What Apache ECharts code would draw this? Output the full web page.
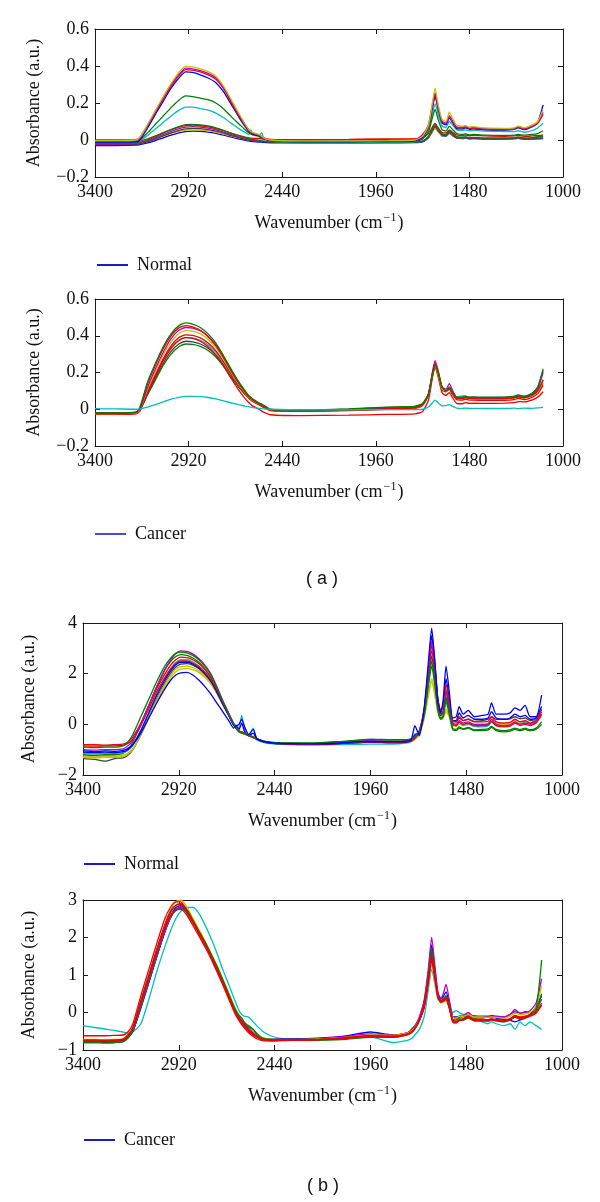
<!DOCTYPE html>
<html><head><meta charset="utf-8">
<script src="https://cdn.jsdelivr.net/npm/echarts@6/dist/echarts.min.js"></script>
<style>html,body{margin:0;padding:0;background:#fff}#c{width:600px;height:1202px}</style>
</head><body><div id="c"></div>
<script>
// ---------- axis ticks ----------
const X_TICKS = [3400, 2920, 2440, 1960, 1480, 1000];
const Y_TICKS_A = [-0.2, 0, 0.2, 0.4, 0.6];
const Y_TICKS_B_NORMAL = [-2, 0, 2, 4];
const Y_TICKS_B_CANCER = [-1, 0, 1, 2, 3];

// ---------- (a) wavenumbers ----------
const WN_A = [3400,3300,3190,3170,3130,3090,3050,3010,2970,2935,2900,2860,2820,2780,2740,2700,2660,2630,2610,2600,2590,2560,2545,2535,2500,2350,2100,1900,1760,1720,1690,1670,1656,1640,1620,1600,1583,1565,1545,1515,1500,1480,1460,1400,1300,1250,1230,1200,1160,1130,1102];

// (a) Normal
const A_N_OLIVE = [-0.003,-0.003,0.0,0.015,0.085,0.16,0.235,0.305,0.365,0.398,0.395,0.385,0.37,0.345,0.29,0.215,0.14,0.085,0.055,0.045,0.04,0.03,0.02,0.012,0.0,-0.005,-0.005,-0.003,0.0,0.02,0.08,0.2,0.28,0.19,0.11,0.1,0.15,0.115,0.08,0.075,0.078,0.07,0.072,0.065,0.063,0.066,0.075,0.066,0.08,0.1,0.165];
const A_N_MAGENTA = [-0.005,-0.005,-0.002,0.012,0.08,0.155,0.228,0.298,0.355,0.388,0.385,0.375,0.36,0.335,0.282,0.208,0.135,0.082,0.053,0.043,0.038,0.028,0.018,0.01,-0.002,-0.006,-0.006,-0.004,0.0,0.03,0.08,0.19,0.255,0.18,0.1,0.09,0.13,0.1,0.07,0.07,0.075,0.065,0.068,0.062,0.06,0.062,0.072,0.062,0.075,0.095,0.15];
const A_N_RED = [0.0,0.0,0.002,0.012,0.078,0.15,0.222,0.29,0.348,0.38,0.378,0.368,0.352,0.328,0.276,0.2,0.13,0.08,0.05,0.042,0.036,0.027,0.018,0.012,0.003,0.0,0.002,0.004,0.005,0.02,0.075,0.18,0.245,0.175,0.098,0.088,0.125,0.098,0.068,0.066,0.07,0.062,0.064,0.06,0.058,0.06,0.07,0.06,0.072,0.09,0.14];
const A_N_BLUE = [-0.012,-0.012,-0.01,0.0,0.065,0.14,0.21,0.28,0.335,0.368,0.365,0.352,0.335,0.31,0.26,0.19,0.12,0.072,0.045,0.038,0.032,0.024,0.015,0.008,-0.004,-0.008,-0.008,-0.006,-0.004,0.015,0.07,0.17,0.235,0.165,0.092,0.082,0.12,0.092,0.062,0.06,0.066,0.058,0.06,0.055,0.054,0.057,0.066,0.056,0.07,0.095,0.19];
const A_N_GREEN = [-0.01,-0.01,-0.008,0.0,0.04,0.085,0.13,0.175,0.215,0.238,0.235,0.226,0.218,0.2,0.168,0.125,0.085,0.055,0.038,0.032,0.028,0.02,0.012,0.006,-0.005,-0.01,-0.01,-0.008,-0.006,0.005,0.045,0.12,0.165,0.11,0.055,0.048,0.075,0.055,0.035,0.03,0.033,0.028,0.03,0.026,0.025,0.026,0.03,0.026,0.03,0.035,0.05];
const A_N_CYAN = [-0.012,-0.012,-0.01,-0.004,0.025,0.06,0.095,0.13,0.16,0.178,0.178,0.17,0.162,0.145,0.12,0.09,0.06,0.04,0.03,0.055,0.028,0.022,0.04,0.012,-0.006,-0.012,-0.012,-0.01,-0.008,0.008,0.06,0.14,0.195,0.14,0.075,0.068,0.1,0.08,0.055,0.052,0.055,0.05,0.052,0.048,0.046,0.045,0.05,0.042,0.05,0.065,0.09];
const A_N_GREEN_LOW = [-0.018,-0.018,-0.016,-0.012,0.0,0.018,0.038,0.056,0.072,0.083,0.085,0.082,0.076,0.066,0.052,0.036,0.022,0.012,0.006,0.004,0.002,-0.002,-0.005,-0.006,-0.01,-0.012,-0.012,-0.012,-0.01,-0.006,0.02,0.06,0.085,0.06,0.032,0.03,0.05,0.035,0.018,0.015,0.017,0.012,0.014,0.01,0.01,0.012,0.016,0.01,0.012,0.018,0.022];
const A_N_RED_LOW = [-0.01,-0.01,-0.008,-0.005,0.006,0.022,0.04,0.056,0.07,0.078,0.08,0.077,0.071,0.062,0.05,0.036,0.024,0.016,0.012,0.01,0.009,0.008,0.006,0.005,0.002,0.002,0.003,0.005,0.006,0.012,0.035,0.07,0.09,0.065,0.04,0.038,0.055,0.04,0.028,0.025,0.027,0.023,0.025,0.022,0.02,0.022,0.025,0.02,0.022,0.024,0.026];
const A_N_MAGENTA_LOW = [-0.022,-0.022,-0.02,-0.016,-0.004,0.012,0.03,0.047,0.061,0.07,0.072,0.07,0.064,0.055,0.043,0.029,0.016,0.008,0.003,0.001,0.0,-0.004,-0.006,-0.007,-0.01,-0.013,-0.013,-0.012,-0.011,-0.006,0.018,0.055,0.078,0.055,0.03,0.027,0.045,0.03,0.016,0.014,0.016,0.012,0.013,0.01,0.01,0.012,0.015,0.01,0.012,0.015,0.018];
const A_N_GRAY_LOW = [-0.025,-0.025,-0.023,-0.02,-0.01,0.005,0.022,0.038,0.052,0.06,0.063,0.061,0.056,0.048,0.037,0.024,0.012,0.004,0.0,-0.002,-0.003,-0.006,-0.008,-0.009,-0.012,-0.014,-0.014,-0.013,-0.012,-0.008,0.015,0.05,0.072,0.05,0.026,0.024,0.04,0.026,0.012,0.01,0.012,0.008,0.009,0.006,0.006,0.008,0.011,0.006,0.007,0.009,0.012];
const A_N_OLIVE_LOW = [-0.02,-0.02,-0.018,-0.015,-0.006,0.008,0.022,0.036,0.047,0.053,0.055,0.053,0.049,0.042,0.032,0.021,0.011,0.004,0.001,-0.001,-0.002,-0.005,-0.006,-0.007,-0.01,-0.012,-0.012,-0.011,-0.01,-0.006,0.014,0.045,0.065,0.045,0.024,0.022,0.036,0.024,0.012,0.01,0.012,0.008,0.009,0.007,0.007,0.009,0.012,0.007,0.008,0.01,0.013];
const A_N_BLUE_LOW = [-0.03,-0.03,-0.028,-0.025,-0.016,-0.003,0.012,0.026,0.038,0.045,0.048,0.047,0.043,0.036,0.026,0.015,0.005,-0.002,-0.006,-0.008,-0.009,-0.011,-0.012,-0.013,-0.015,-0.016,-0.016,-0.015,-0.014,-0.01,0.012,0.045,0.066,0.045,0.022,0.02,0.036,0.022,0.01,0.008,0.01,0.006,0.007,0.005,0.005,0.007,0.009,0.004,0.005,0.006,0.008];

// (a) Cancer
const A_C_GREEN = [-0.02,-0.02,-0.015,0.01,0.15,0.25,0.34,0.41,0.455,0.47,0.463,0.445,0.41,0.36,0.29,0.215,0.145,0.1,0.072,0.065,0.055,0.035,0.028,0.022,0.0,-0.005,0.0,0.01,0.015,0.03,0.08,0.18,0.24,0.2,0.12,0.1,0.12,0.09,0.065,0.065,0.07,0.065,0.066,0.064,0.065,0.07,0.075,0.07,0.085,0.12,0.22];
const A_C_RED = [-0.022,-0.022,-0.018,0.005,0.14,0.24,0.33,0.4,0.443,0.455,0.448,0.43,0.395,0.345,0.28,0.205,0.138,0.095,0.068,0.058,0.05,0.03,0.022,0.016,-0.005,-0.01,-0.005,0.002,0.008,0.025,0.08,0.19,0.25,0.2,0.12,0.1,0.115,0.085,0.06,0.058,0.062,0.058,0.058,0.056,0.057,0.062,0.068,0.062,0.075,0.1,0.16];
const A_C_MAGENTA = [-0.02,-0.02,-0.017,0.0,0.12,0.22,0.31,0.385,0.43,0.445,0.442,0.428,0.398,0.35,0.285,0.21,0.14,0.096,0.07,0.06,0.052,0.032,0.024,0.018,-0.002,-0.008,-0.003,0.005,0.01,0.028,0.085,0.2,0.265,0.21,0.12,0.11,0.14,0.1,0.065,0.063,0.067,0.062,0.063,0.06,0.06,0.065,0.072,0.066,0.08,0.11,0.2];
const A_C_OLIVE = [-0.023,-0.023,-0.02,-0.002,0.11,0.205,0.295,0.365,0.412,0.428,0.425,0.41,0.38,0.335,0.27,0.198,0.132,0.09,0.065,0.056,0.048,0.03,0.022,0.016,-0.003,-0.008,-0.004,0.004,0.008,0.025,0.08,0.185,0.24,0.19,0.11,0.1,0.12,0.088,0.06,0.058,0.062,0.057,0.058,0.055,0.055,0.06,0.07,0.06,0.072,0.095,0.15];
const A_C_RED_2 = [-0.025,-0.025,-0.022,-0.005,0.1,0.19,0.275,0.345,0.39,0.405,0.402,0.388,0.36,0.318,0.258,0.19,0.126,0.085,0.06,0.051,0.043,0.025,0.016,0.01,-0.008,-0.012,-0.008,0.0,0.004,0.02,0.075,0.18,0.235,0.185,0.105,0.095,0.11,0.08,0.052,0.05,0.054,0.05,0.05,0.048,0.048,0.052,0.06,0.052,0.065,0.085,0.13];
const A_C_RED_3 = [-0.028,-0.028,-0.025,-0.01,0.09,0.18,0.265,0.33,0.375,0.39,0.386,0.37,0.34,0.295,0.235,0.165,0.1,0.058,0.035,0.025,0.017,0.0,-0.01,-0.016,-0.03,-0.035,-0.032,-0.028,-0.025,-0.012,0.05,0.17,0.23,0.175,0.09,0.075,0.09,0.06,0.032,0.03,0.036,0.032,0.033,0.032,0.033,0.036,0.042,0.04,0.05,0.065,0.095];
const A_C_CYAN = [-0.02,-0.02,-0.018,-0.003,0.095,0.185,0.27,0.335,0.375,0.39,0.388,0.375,0.35,0.31,0.25,0.185,0.124,0.085,0.062,0.053,0.046,0.028,0.02,0.014,-0.004,-0.008,-0.004,0.004,0.008,0.025,0.08,0.18,0.235,0.19,0.11,0.1,0.115,0.085,0.068,0.072,0.072,0.066,0.066,0.064,0.064,0.068,0.076,0.068,0.078,0.1,0.16];
const A_C_GRAY = [-0.022,-0.022,-0.02,-0.006,0.085,0.17,0.25,0.315,0.355,0.37,0.367,0.355,0.332,0.295,0.24,0.178,0.12,0.082,0.06,0.051,0.044,0.026,0.018,0.012,-0.005,-0.008,-0.002,0.006,0.01,0.026,0.08,0.19,0.25,0.2,0.115,0.1,0.11,0.08,0.062,0.062,0.066,0.06,0.062,0.06,0.06,0.064,0.07,0.065,0.075,0.095,0.14];
const A_C_GREEN_2 = [-0.023,-0.023,-0.02,-0.007,0.08,0.16,0.238,0.3,0.34,0.355,0.353,0.342,0.32,0.284,0.232,0.172,0.117,0.08,0.065,0.06,0.045,0.03,0.025,0.018,-0.003,-0.005,0.002,0.012,0.016,0.032,0.085,0.19,0.245,0.195,0.115,0.1,0.115,0.085,0.066,0.066,0.07,0.064,0.066,0.064,0.066,0.07,0.078,0.07,0.085,0.12,0.21];
const A_C_CYAN_LOW = [0.003,0.002,0.0,0.002,0.012,0.025,0.04,0.055,0.065,0.07,0.07,0.069,0.064,0.056,0.045,0.034,0.024,0.017,0.013,0.011,0.009,0.005,0.003,0.002,0.0,-0.003,-0.003,-0.002,-0.002,0.0,0.012,0.035,0.05,0.035,0.018,0.02,0.025,0.015,0.006,0.005,0.006,0.005,0.005,0.004,0.004,0.006,0.003,0.006,0.005,0.007,0.012];

// ---------- (b) wavenumbers ----------
const WN_B = [3400,3340,3290,3240,3200,3175,3150,3110,3070,3030,2990,2960,2935,2910,2880,2850,2820,2790,2760,2730,2700,2670,2645,2630,2618,2605,2590,2570,2547,2530,2500,2460,2400,2250,2100,1960,1850,1780,1755,1737,1715,1690,1670,1653,1638,1622,1608,1595,1581,1565,1548,1530,1515,1495,1470,1440,1400,1370,1353,1330,1290,1260,1236,1210,1185,1160,1130,1102];

// (b) Normal
const B_N_GREEN = [-0.9,-0.92,-0.9,-0.9,-0.85,-0.7,-0.4,0.3,1.0,1.7,2.3,2.62,2.8,2.85,2.82,2.72,2.55,2.3,1.95,1.45,0.9,0.4,0.0,-0.18,-0.28,-0.32,-0.36,-0.42,-0.5,-0.56,-0.64,-0.7,-0.73,-0.74,-0.68,-0.58,-0.6,-0.6,-0.56,-0.48,-0.3,0.4,1.6,2.5,1.7,0.6,0.25,0.35,1.1,0.5,-0.15,-0.2,-0.1,-0.18,-0.12,-0.22,-0.2,-0.18,-0.08,-0.2,-0.25,-0.22,-0.15,-0.2,-0.15,-0.22,-0.15,0.1];
const B_N_MAGENTA = [-1.0,-1.02,-1.0,-1.0,-0.97,-0.85,-0.62,0.0,0.75,1.5,2.15,2.55,2.8,2.9,2.88,2.78,2.6,2.35,2.0,1.5,0.95,0.45,0.05,-0.15,-0.25,-0.3,-0.35,-0.42,-0.5,-0.56,-0.66,-0.72,-0.75,-0.77,-0.72,-0.65,-0.68,-0.66,-0.6,-0.5,-0.25,0.6,2.0,3.3,2.3,0.9,0.4,0.5,1.3,0.7,0.05,0.0,0.15,0.05,0.1,0.0,0.0,0.02,0.2,0.0,-0.05,-0.02,0.1,0.0,0.05,0.0,0.1,0.5];
const B_N_RED = [-0.8,-0.8,-0.82,-0.8,-0.78,-0.7,-0.5,0.05,0.75,1.42,1.98,2.35,2.55,2.65,2.63,2.55,2.4,2.17,1.85,1.4,0.9,0.42,0.02,-0.17,-0.27,-0.31,-0.36,-0.43,-0.5,-0.57,-0.66,-0.72,-0.76,-0.78,-0.74,-0.68,-0.7,-0.68,-0.63,-0.52,-0.25,0.6,2.0,3.1,2.3,1.0,0.55,0.7,1.6,0.9,0.15,0.1,0.3,0.15,0.2,0.1,0.1,0.12,0.3,0.1,0.05,0.08,0.2,0.1,0.15,0.05,0.15,0.6];
const B_N_RED_2 = [-0.85,-0.86,-0.85,-0.85,-0.83,-0.75,-0.58,-0.05,0.62,1.3,1.85,2.2,2.4,2.5,2.5,2.42,2.28,2.06,1.75,1.32,0.85,0.38,0.0,-0.18,-0.28,-0.32,-0.37,-0.44,-0.52,-0.58,-0.67,-0.73,-0.77,-0.79,-0.75,-0.7,-0.72,-0.7,-0.65,-0.55,-0.3,0.5,1.8,2.9,2.1,0.8,0.4,0.5,1.3,0.7,0.0,-0.05,0.1,0.0,0.05,-0.05,-0.05,-0.03,0.12,-0.05,-0.1,-0.07,0.05,-0.05,0.0,-0.05,0.05,0.4];
const B_N_BLUE = [-1.05,-1.08,-1.05,-1.07,-1.03,-0.95,-0.8,-0.35,0.25,0.85,1.4,1.75,1.95,2.03,2.05,1.95,1.75,1.5,1.2,0.85,0.5,0.15,-0.15,-0.05,0.0,0.2,-0.1,-0.4,-0.2,-0.55,-0.66,-0.72,-0.75,-0.77,-0.73,-0.66,-0.68,-0.66,-0.6,-0.05,-0.45,0.7,2.4,3.8,2.6,0.9,0.45,1.0,2.3,1.3,0.25,0.3,0.7,0.4,0.55,0.3,0.35,0.4,0.85,0.4,0.4,0.45,0.65,0.55,0.75,0.3,0.3,1.15];
const B_N_BLUE_2 = [-1.1,-1.12,-1.1,-1.12,-1.08,-1.0,-0.8,-0.25,0.45,1.15,1.75,2.12,2.35,2.45,2.45,2.38,2.22,2.0,1.7,1.28,0.8,0.35,-0.05,-0.1,-0.2,0.05,-0.3,-0.45,-0.35,-0.58,-0.68,-0.74,-0.77,-0.79,-0.75,-0.7,-0.72,-0.7,-0.64,-0.4,-0.35,0.6,2.2,3.5,2.5,1.0,0.5,0.8,1.8,1.0,0.15,0.15,0.45,0.25,0.35,0.2,0.2,0.25,0.5,0.25,0.2,0.25,0.4,0.3,0.35,0.2,0.25,0.7];
const B_N_OLIVE = [-1.3,-1.32,-1.3,-1.3,-1.27,-1.18,-0.98,-0.4,0.3,0.98,1.58,1.95,2.18,2.28,2.3,2.25,2.12,1.92,1.65,1.25,0.8,0.35,0.0,-0.18,-0.28,-0.33,-0.38,-0.45,-0.53,-0.6,-0.68,-0.74,-0.78,-0.8,-0.76,-0.7,-0.72,-0.7,-0.66,-0.58,-0.38,0.3,1.2,1.8,1.3,0.5,0.25,0.3,0.6,0.35,0.0,-0.05,0.05,0.0,0.05,0.0,0.0,0.05,0.15,0.05,0.05,0.08,0.15,0.1,0.12,0.05,0.1,0.3];
const B_N_GRAY = [-1.35,-1.38,-1.45,-1.35,-1.32,-1.22,-1.0,-0.4,0.32,1.02,1.65,2.02,2.26,2.38,2.4,2.34,2.2,1.98,1.7,1.3,0.82,0.37,0.0,-0.17,-0.27,-0.32,-0.37,-0.44,-0.52,-0.58,-0.67,-0.73,-0.77,-0.79,-0.74,-0.66,-0.68,-0.67,-0.62,-0.52,-0.3,0.5,1.75,2.7,1.9,0.75,0.35,0.45,1.0,0.55,0.1,0.1,0.25,0.15,0.2,0.12,0.15,0.2,0.3,0.2,0.2,0.22,0.3,0.22,0.25,0.15,0.2,0.4];
const B_N_CYAN = [-1.15,-1.17,-1.15,-1.15,-1.12,-1.03,-0.82,-0.25,0.48,1.2,1.82,2.2,2.45,2.55,2.55,2.47,2.3,2.07,1.76,1.33,0.85,0.38,0.0,-0.05,-0.15,0.35,-0.2,-0.45,-0.15,-0.6,-0.7,-0.76,-0.79,-0.81,-0.8,-0.78,-0.78,-0.74,-0.68,-0.55,-0.3,0.6,2.0,3.2,2.3,0.9,0.4,0.55,1.4,0.75,0.0,-0.05,0.1,-0.05,0.0,-0.08,-0.1,-0.05,0.1,-0.05,-0.08,-0.05,0.05,0.0,0.1,0.05,0.2,0.6];
const B_N_GREEN_2 = [-1.2,-1.22,-1.2,-1.2,-1.15,-1.0,-0.7,0.0,0.75,1.5,2.15,2.5,2.68,2.75,2.72,2.62,2.45,2.2,1.85,1.38,0.85,0.37,0.0,-0.2,-0.3,-0.35,-0.38,-0.45,-0.52,-0.58,-0.66,-0.71,-0.74,-0.74,-0.67,-0.6,-0.62,-0.62,-0.58,-0.5,-0.32,0.4,1.5,2.3,1.6,0.6,0.2,0.3,0.9,0.4,-0.2,-0.25,-0.15,-0.2,-0.15,-0.25,-0.25,-0.22,-0.12,-0.25,-0.3,-0.27,-0.2,-0.25,-0.2,-0.25,-0.2,0.0];
const B_N_OLIVE_2 = [-1.25,-1.28,-1.25,-1.27,-1.22,-1.13,-0.95,-0.42,0.25,0.92,1.5,1.86,2.08,2.18,2.2,2.16,2.05,1.86,1.6,1.22,0.78,0.34,-0.02,-0.2,-0.3,-0.34,-0.39,-0.46,-0.54,-0.6,-0.68,-0.74,-0.78,-0.8,-0.77,-0.71,-0.73,-0.71,-0.67,-0.6,-0.4,0.25,1.1,1.7,1.2,0.45,0.2,0.25,0.5,0.3,-0.05,-0.08,0.0,-0.05,0.0,-0.05,-0.05,0.0,0.1,0.0,0.0,0.02,0.1,0.05,0.08,0.02,0.08,0.35];

// (b) Cancer
const B_C_RED = [-0.62,-0.62,-0.62,-0.61,-0.6,-0.52,-0.3,0.45,1.15,1.85,2.5,2.82,2.95,2.95,2.72,2.42,2.12,1.82,1.5,1.15,0.78,0.4,0.08,-0.08,-0.18,-0.28,-0.38,-0.5,-0.6,-0.66,-0.72,-0.74,-0.74,-0.73,-0.68,-0.62,-0.63,-0.58,-0.52,-0.42,-0.2,0.2,0.85,1.5,1.0,0.45,0.3,0.32,0.4,0.15,-0.22,-0.25,-0.2,-0.18,-0.1,-0.2,-0.2,-0.2,-0.18,-0.2,-0.22,-0.18,-0.1,-0.15,-0.12,-0.08,0.0,0.2];
const B_C_CYAN_SHIFT = [-0.35,-0.4,-0.44,-0.48,-0.52,-0.55,-0.52,-0.3,0.35,1.1,1.75,2.2,2.5,2.7,2.8,2.8,2.65,2.35,2.0,1.6,1.15,0.75,0.4,0.2,0.05,-0.05,-0.1,-0.12,-0.25,-0.35,-0.5,-0.62,-0.7,-0.72,-0.68,-0.65,-0.8,-0.75,-0.7,-0.6,-0.45,-0.1,0.6,1.15,0.8,0.35,0.3,0.35,0.35,0.15,0.0,0.05,0.0,-0.05,-0.05,-0.15,-0.25,-0.3,-0.25,-0.3,-0.35,-0.3,-0.45,-0.25,-0.35,-0.25,-0.35,-0.45];
const B_C_MAGENTA = [-0.78,-0.78,-0.79,-0.78,-0.76,-0.66,-0.5,0.15,0.82,1.5,2.15,2.55,2.75,2.82,2.7,2.45,2.17,1.88,1.56,1.22,0.86,0.48,0.16,0.0,-0.1,-0.2,-0.3,-0.42,-0.54,-0.61,-0.69,-0.73,-0.73,-0.71,-0.65,-0.57,-0.6,-0.55,-0.48,-0.36,-0.12,0.35,1.15,2.0,1.3,0.55,0.38,0.5,0.75,0.35,-0.1,-0.15,-0.1,-0.08,0.0,-0.12,-0.12,-0.12,-0.1,-0.12,-0.12,-0.05,0.08,-0.02,0.0,0.05,0.25,0.9];
const B_C_GREEN = [-0.8,-0.8,-0.81,-0.8,-0.78,-0.68,-0.48,0.22,0.9,1.6,2.28,2.68,2.86,2.9,2.75,2.47,2.18,1.9,1.58,1.25,0.88,0.5,0.18,0.02,-0.08,-0.15,-0.28,-0.38,-0.45,-0.58,-0.68,-0.72,-0.73,-0.72,-0.7,-0.64,-0.65,-0.6,-0.54,-0.43,-0.22,0.2,0.95,1.6,1.05,0.45,0.3,0.35,0.45,0.2,-0.18,-0.2,-0.15,-0.15,-0.1,-0.18,-0.18,-0.2,-0.18,-0.2,-0.22,-0.18,-0.1,-0.15,-0.12,-0.05,0.1,1.4];
const B_C_GREEN_2 = [-0.75,-0.76,-0.75,-0.75,-0.73,-0.64,-0.47,0.18,0.85,1.52,2.18,2.55,2.72,2.78,2.66,2.4,2.12,1.84,1.52,1.2,0.85,0.48,0.15,0.0,-0.1,-0.15,-0.28,-0.35,-0.45,-0.55,-0.68,-0.72,-0.73,-0.74,-0.72,-0.66,-0.66,-0.6,-0.45,-0.35,-0.18,0.25,1.0,1.7,1.1,0.45,0.3,0.33,0.4,0.15,-0.2,-0.25,-0.2,-0.2,-0.15,-0.22,-0.22,-0.22,-0.2,-0.22,-0.25,-0.2,-0.12,-0.18,-0.15,-0.1,0.05,0.5];
const B_C_OLIVE = [-0.72,-0.72,-0.73,-0.72,-0.7,-0.6,-0.42,0.25,0.95,1.65,2.32,2.75,2.95,3.0,2.82,2.52,2.22,1.92,1.6,1.26,0.9,0.52,0.2,0.04,-0.06,-0.16,-0.26,-0.38,-0.5,-0.58,-0.67,-0.71,-0.72,-0.71,-0.67,-0.6,-0.61,-0.56,-0.5,-0.4,-0.2,0.15,0.75,1.3,0.85,0.4,0.25,0.28,0.32,0.12,-0.12,-0.15,-0.1,-0.1,-0.05,-0.12,-0.12,-0.13,-0.12,-0.13,-0.15,-0.1,-0.02,-0.06,-0.04,0.0,0.15,0.7];
const B_C_BLUE = [-0.78,-0.78,-0.78,-0.77,-0.75,-0.66,-0.5,0.12,0.8,1.5,2.15,2.58,2.8,2.85,2.72,2.45,2.16,1.87,1.55,1.22,0.86,0.48,0.16,0.0,-0.1,-0.2,-0.3,-0.42,-0.54,-0.6,-0.68,-0.71,-0.7,-0.69,-0.64,-0.52,-0.6,-0.55,-0.48,-0.37,-0.15,0.3,1.05,1.8,1.2,0.5,0.35,0.42,0.55,0.25,-0.1,-0.12,-0.1,-0.1,-0.05,-0.1,-0.12,-0.12,-0.12,-0.15,-0.18,-0.2,-0.25,-0.2,-0.15,-0.05,0.15,0.45];
const B_C_RED_2 = [-0.75,-0.75,-0.76,-0.75,-0.73,-0.62,-0.42,0.3,0.98,1.66,2.25,2.6,2.73,2.75,2.6,2.33,2.05,1.76,1.45,1.1,0.74,0.36,0.05,-0.12,-0.22,-0.32,-0.42,-0.54,-0.64,-0.7,-0.75,-0.76,-0.75,-0.73,-0.68,-0.63,-0.64,-0.59,-0.53,-0.43,-0.22,0.15,0.8,1.4,0.95,0.42,0.28,0.3,0.35,0.12,-0.25,-0.28,-0.22,-0.2,-0.12,-0.22,-0.22,-0.23,-0.2,-0.22,-0.24,-0.2,-0.12,-0.16,-0.14,-0.1,-0.02,0.2];
const B_C_GRAY = [-0.8,-0.8,-0.81,-0.8,-0.78,-0.68,-0.5,0.15,0.82,1.5,2.15,2.55,2.74,2.8,2.68,2.42,2.14,1.85,1.53,1.2,0.84,0.46,0.14,-0.02,-0.12,-0.22,-0.32,-0.44,-0.55,-0.62,-0.7,-0.73,-0.73,-0.72,-0.67,-0.6,-0.62,-0.57,-0.5,-0.4,-0.18,0.22,0.95,1.6,1.05,0.45,0.3,0.34,0.42,0.18,-0.12,-0.15,-0.12,-0.1,-0.05,-0.1,-0.1,-0.1,-0.08,-0.1,-0.12,-0.05,0.02,-0.02,0.02,0.0,0.1,0.35];
const B_C_RED_3 = [-0.73,-0.73,-0.74,-0.73,-0.71,-0.6,-0.4,0.32,1.0,1.7,2.35,2.72,2.86,2.88,2.72,2.44,2.14,1.84,1.52,1.17,0.8,0.42,0.1,-0.06,-0.16,-0.26,-0.36,-0.48,-0.58,-0.65,-0.72,-0.74,-0.74,-0.73,-0.69,-0.64,-0.65,-0.6,-0.54,-0.44,-0.22,0.15,0.8,1.45,0.95,0.42,0.28,0.3,0.38,0.14,-0.2,-0.24,-0.2,-0.18,-0.1,-0.18,-0.18,-0.19,-0.17,-0.19,-0.2,-0.16,-0.08,-0.12,-0.1,-0.06,0.02,0.25];

// ---------- styling ----------
const C_BLUE = '#0000f0', C_GREEN = '#007f00', C_RED = '#f00000', C_CYAN = '#00bfbf',
      C_MAGENTA = '#bf00bf', C_OLIVE = '#c8c000', C_GRAY = '#404040';
const SERIF = '"Liberation Serif", "Times New Roman", serif';

const PANELS = [
  { name: 'Normal', wn: WN_A, yTicks: Y_TICKS_A, legendColor: '#1a1acc',
    grid: {left: 95, top: 29, width: 468, height: 148}, legendY: 264, legendX: 97, yNameGap: 52,
    curves: [[A_N_BLUE_LOW, C_BLUE], [A_N_OLIVE_LOW, C_OLIVE], [A_N_GRAY_LOW, C_GRAY], [A_N_MAGENTA_LOW, C_MAGENTA],
             [A_N_RED_LOW, C_RED], [A_N_GREEN_LOW, C_GREEN], [A_N_CYAN, C_CYAN], [A_N_GREEN, C_GREEN],
             [A_N_BLUE, C_BLUE], [A_N_RED, C_RED], [A_N_MAGENTA, C_MAGENTA], [A_N_OLIVE, C_OLIVE]] },
  { name: 'Cancer', wn: WN_A, yTicks: Y_TICKS_A, legendColor: '#4a4ae0',
    grid: {left: 95, top: 299, width: 468, height: 147}, legendY: 533, legendX: 95, yNameGap: 52,
    curves: [[A_C_GREEN_2, C_GREEN], [A_C_GRAY, C_GRAY], [A_C_CYAN, C_CYAN], [A_C_RED_3, C_RED], [A_C_RED_2, C_RED],
             [A_C_OLIVE, C_OLIVE], [A_C_MAGENTA, C_MAGENTA], [A_C_RED, C_RED], [A_C_GREEN, C_GREEN], [A_C_CYAN_LOW, C_CYAN]] },
  { name: 'Normal', wn: WN_B, yTicks: Y_TICKS_B_NORMAL, legendColor: '#1a1acc',
    grid: {left: 83, top: 623, width: 479, height: 152}, legendY: 863, legendX: 84, yNameGap: 45,
    curves: [[B_N_GRAY, C_GRAY], [B_N_OLIVE_2, C_OLIVE], [B_N_OLIVE, C_OLIVE], [B_N_GREEN_2, C_GREEN], [B_N_CYAN, C_CYAN],
             [B_N_RED_2, C_RED], [B_N_BLUE_2, C_BLUE], [B_N_RED, C_RED], [B_N_MAGENTA, C_MAGENTA], [B_N_GREEN, C_GREEN], [B_N_BLUE, C_BLUE]] },
  { name: 'Cancer', wn: WN_B, yTicks: Y_TICKS_B_CANCER, legendColor: '#1a1acc',
    grid: {left: 83, top: 900, width: 479, height: 150}, legendY: 1139, legendX: 84, yNameGap: 45,
    curves: [[B_C_CYAN_SHIFT, C_CYAN], [B_C_GRAY, C_GRAY], [B_C_BLUE, C_BLUE], [B_C_GREEN_2, C_GREEN], [B_C_MAGENTA, C_MAGENTA],
             [B_C_OLIVE, C_OLIVE], [B_C_GREEN, C_GREEN], [B_C_RED_2, C_RED], [B_C_RED_3, C_RED], [B_C_RED, C_RED]] }
];

function fmtY(v) {
  const r = Math.round(v * 100) / 100;
  return (r < 0 ? '\u2212' : '') + String(Math.abs(r));
}

const grids = [], xAxes = [], yAxes = [], series = [], legends = [];
PANELS.forEach((p, i) => {
  grids.push(Object.assign({containLabel: false}, p.grid));
  const axLine = {show: true, onZero: false, lineStyle: {color: '#1a1a1a', width: 1}};
  const tick = {show: true, inside: true, length: 5, customValues: X_TICKS, lineStyle: {color: '#1a1a1a', width: 1}};
  xAxes.push({
    gridIndex: i, type: 'value', min: 1000, max: 3400, inverse: true, position: 'bottom',
    axisLine: axLine, axisTick: tick, splitLine: {show: false},
    axisLabel: {customValues: X_TICKS, formatter: (v) => String(v), margin: 6, color: '#111', fontFamily: SERIF, fontSize: 18},
    name: '{t|Wavenumber (cm}{s|\u22121}{t|)}', nameLocation: 'middle', nameGap: 35,
    nameTextStyle: {fontFamily: SERIF, fontSize: 18, color: '#111',
      rich: {t: {fontFamily: SERIF, fontSize: 18, color: '#111', lineHeight: 22},
             s: {fontFamily: SERIF, fontSize: 12, color: '#111', verticalAlign: 'top', lineHeight: 12, padding: [0, 1, 0, 1]}}}
  });
  xAxes.push({
    gridIndex: i, type: 'value', min: 1000, max: 3400, inverse: true, position: 'top',
    axisLine: axLine, axisTick: tick, splitLine: {show: false}, axisLabel: {show: false}
  });
  const yMin = p.yTicks[0], yMax = p.yTicks[p.yTicks.length - 1], yInt = p.yTicks[1] - p.yTicks[0];
  const ytick = {show: true, inside: true, length: 5, lineStyle: {color: '#1a1a1a', width: 1}};
  yAxes.push({
    gridIndex: i, type: 'value', min: yMin, max: yMax, interval: yInt, position: 'left',
    axisLine: axLine, axisTick: ytick, splitLine: {show: false},
    axisLabel: {formatter: fmtY, margin: 6, color: '#111', fontFamily: SERIF, fontSize: 18},
    name: 'Absorbance (a.u.)', nameLocation: 'middle', nameGap: p.yNameGap,
    nameTextStyle: {fontFamily: SERIF, fontSize: 18, color: '#111'}
  });
  yAxes.push({
    gridIndex: i, type: 'value', min: yMin, max: yMax, interval: yInt, position: 'right',
    axisLine: axLine, axisTick: ytick, splitLine: {show: false}, axisLabel: {show: false}
  });
  p.curves.forEach(([vals, color]) => {
    series.push({
      type: 'line', name: p.name, xAxisIndex: 2 * i, yAxisIndex: 2 * i,
      data: p.wn.map((w, k) => [w, vals[k]]),
      symbol: 'none', silent: true, smooth: 0.2,
      lineStyle: {color: color, width: 1.3}, itemStyle: {color: color}
    });
  });
  legends.push({
    left: p.legendX, top: p.legendY - 8, padding: 0, itemWidth: 31, itemHeight: 2, icon: 'rect',
    selectedMode: false, orient: 'horizontal',
    data: [{name: p.name, icon: 'rect', itemStyle: {color: p.legendColor, borderWidth: 0}}],
    textStyle: {fontFamily: SERIF, fontSize: 18, color: '#111', padding: [0, 0, 0, 4]}
  });
});

const chart = echarts.init(document.getElementById('c'), null, {renderer: 'canvas'});
chart.setOption({
  backgroundColor: '#fff',
  animation: false,
  grid: grids, xAxis: xAxes, yAxis: yAxes, series: series, legend: legends,
  graphic: [
    {type: 'text', style: {x: 322, y: 579, text: '( a )', font: '18px "Liberation Sans", Arial, sans-serif', fill: '#111', align: 'center', verticalAlign: 'middle'}},
    {type: 'text', style: {x: 323, y: 1186, text: '( b )', font: '18px "Liberation Sans", Arial, sans-serif', fill: '#111', align: 'center', verticalAlign: 'middle'}}
  ]
});
</script></body></html>
